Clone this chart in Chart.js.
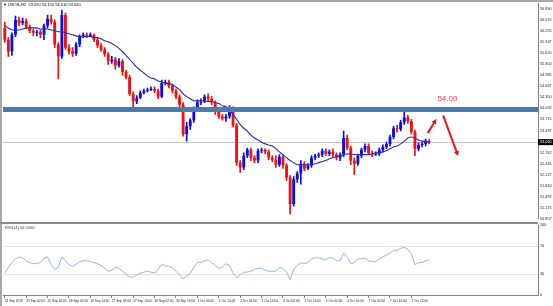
<!DOCTYPE html>
<html>
<head>
<meta charset="utf-8">
<script src="https://cdn.jsdelivr.net/npm/chart.js@4.4.0/dist/chart.umd.min.js"></script>
<style>
  html, body { margin: 0; padding: 0; background: #fff; }
  #wrap { position: relative; width: 553px; height: 306px; overflow: hidden; }
  #main { position: absolute; left: 0; top: 0; }
  #rsi { position: absolute; left: 0; top: 222px; }
  .frame { position: absolute; background: #a8a8a8; }
</style>
</head>
<body>
<div id="wrap">
  <canvas id="main" width="553" height="222"></canvas>
  <canvas id="rsi" width="553" height="84"></canvas>
  <div class="frame" style="left:0;top:0;width:553px;height:2px"></div>
  <div class="frame" style="left:0;top:0;width:2px;height:306px"></div>
  <div class="frame" style="left:0;top:222px;width:538px;height:2px;background:#8c8c8c"></div>
</div>
<script>
// H2 candles
const opens = [
  56.35, 56.01, 55.67, 56.15, 56.58, 56.49, 56.55, 56.38, 56.27, 56.21,
  56.24, 56.15, 56.41, 56.61, 56.52, 55.87, 55.53, 56.72, 55.78, 55.67,
  55.61, 55.87, 56.10, 56.15, 56.12, 56.15, 56.01, 55.84, 55.73, 55.59,
  55.39, 55.44, 55.27, 55.39, 55.08, 54.93, 54.45, 54.23, 54.34, 54.48,
  54.54, 54.57, 54.59, 54.54, 54.37, 54.76, 54.79, 54.68, 54.54, 54.37,
  54.14, 53.29, 53.52, 53.69, 54.03, 54.20, 54.23, 54.37, 54.31, 54.20,
  53.94, 53.80, 53.74, 53.80, 54.03, 53.55, 52.47, 52.33, 52.67, 52.84,
  52.61, 52.53, 52.81, 52.84, 52.78, 52.61, 52.55, 52.41, 52.64, 52.39,
  52.04, 51.28, 51.99, 52.16, 52.44, 52.30, 52.39, 52.61, 52.67, 52.70,
  52.81, 52.72, 52.78, 52.70, 52.61, 52.70, 53.18, 52.89, 52.53, 52.44,
  52.67, 52.84, 52.95, 52.75, 52.70, 52.72, 52.84, 52.92, 53.01, 53.21,
  53.46, 53.43, 53.63, 53.77, 53.66, 53.35, 52.87, 52.98, 53.01, 53.09,
];
const highs = [
  56.52, 56.07, 56.21, 56.69, 56.66, 56.63, 56.61, 56.44, 56.32, 56.29,
  56.29, 56.46, 56.72, 56.72, 56.58, 55.93, 56.86, 56.78, 55.87, 55.78,
  55.93, 56.15, 56.21, 56.21, 56.21, 56.18, 56.07, 55.90, 55.78, 55.64,
  55.53, 55.50, 55.47, 55.44, 55.13, 54.99, 54.51, 54.40, 54.54, 54.59,
  54.62, 54.65, 54.65, 54.59, 54.85, 54.85, 54.85, 54.74, 54.59, 54.42,
  54.20, 53.63, 53.74, 54.08, 54.28, 54.31, 54.42, 54.45, 54.37, 54.25,
  54.00, 53.86, 53.86, 54.11, 54.08, 53.60, 52.53, 52.75, 52.89, 52.89,
  52.67, 52.87, 52.89, 52.87, 52.84, 52.67, 52.67, 52.70, 52.70, 52.44,
  52.10, 52.07, 52.21, 52.53, 52.50, 52.44, 52.67, 52.72, 52.75, 52.87,
  52.87, 52.84, 52.87, 52.75, 52.75, 53.38, 53.26, 52.95, 52.61, 52.72,
  52.89, 53.01, 53.01, 52.81, 52.78, 52.89, 52.98, 53.06, 53.26, 53.52,
  53.55, 53.69, 54.03, 53.83, 53.72, 53.41, 53.04, 53.06, 53.15, 53.15,
];
const lows = [
  55.93, 55.53, 55.56, 56.10, 56.41, 56.44, 56.32, 56.21, 56.12, 56.12,
  56.07, 56.01, 56.35, 56.46, 55.78, 54.88, 55.47, 55.73, 55.59, 55.53,
  55.56, 55.81, 56.07, 56.07, 56.10, 55.95, 55.78, 55.67, 55.53, 55.30,
  55.33, 55.16, 55.22, 54.99, 54.88, 54.40, 54.03, 54.17, 54.31, 54.45,
  54.51, 54.54, 54.48, 54.31, 54.34, 54.71, 54.62, 54.48, 54.31, 54.08,
  53.23, 53.09, 53.43, 53.63, 53.97, 54.14, 54.20, 54.25, 54.14, 53.86,
  53.74, 53.69, 53.66, 53.74, 53.49, 52.39, 52.19, 52.27, 52.61, 52.53,
  52.47, 52.47, 52.75, 52.72, 52.55, 52.50, 52.33, 52.36, 52.30, 51.96,
  50.99, 51.22, 51.90, 51.85, 52.24, 52.27, 52.33, 52.55, 52.61, 52.64,
  52.67, 52.67, 52.64, 52.55, 52.53, 52.64, 52.84, 52.41, 52.13, 52.39,
  52.61, 52.78, 52.70, 52.64, 52.67, 52.67, 52.78, 52.87, 52.95, 53.15,
  53.35, 53.38, 53.57, 53.60, 53.29, 52.67, 52.81, 52.92, 52.95, 53.01,
];
const closes = [
  56.01, 55.67, 56.15, 56.58, 56.49, 56.55, 56.38, 56.27, 56.21, 56.24,
  56.15, 56.41, 56.61, 56.52, 55.87, 55.53, 56.72, 55.78, 55.67, 55.61,
  55.87, 56.10, 56.15, 56.12, 56.15, 56.01, 55.84, 55.73, 55.59, 55.39,
  55.44, 55.27, 55.39, 55.08, 54.93, 54.45, 54.23, 54.34, 54.48, 54.54,
  54.57, 54.59, 54.54, 54.37, 54.76, 54.79, 54.68, 54.54, 54.37, 54.14,
  53.29, 53.52, 53.69, 54.03, 54.20, 54.23, 54.37, 54.31, 54.20, 53.94,
  53.80, 53.74, 53.80, 54.03, 53.55, 52.47, 52.33, 52.67, 52.84, 52.61,
  52.53, 52.81, 52.84, 52.78, 52.61, 52.55, 52.41, 52.64, 52.39, 52.04,
  51.28, 51.99, 52.16, 52.44, 52.30, 52.39, 52.61, 52.67, 52.70, 52.81,
  52.72, 52.78, 52.70, 52.61, 52.70, 53.18, 52.89, 52.53, 52.44, 52.67,
  52.84, 52.95, 52.75, 52.70, 52.72, 52.84, 52.92, 53.01, 53.21, 53.46,
  53.43, 53.63, 53.77, 53.66, 53.35, 52.87, 52.98, 53.01, 53.09, 53.06,
];
// moving average as drawn on the chart
const maValues = [
  56.41, 56.35, 56.29, 56.29, 56.29, 56.32, 56.35, 56.35, 56.35, 56.35,
  56.32, 56.32, 56.32, 56.29, 56.27, 56.24, 56.24, 56.21, 56.18, 56.15,
  56.12, 56.10, 56.10, 56.10, 56.10, 56.07, 56.07, 56.04, 55.98, 55.95,
  55.90, 55.84, 55.76, 55.67, 55.56, 55.44, 55.33, 55.22, 55.13, 55.05,
  54.96, 54.91, 54.88, 54.82, 54.79, 54.76, 54.74, 54.71, 54.65, 54.57,
  54.45, 54.37, 54.31, 54.25, 54.25, 54.25, 54.25, 54.23, 54.23, 54.20,
  54.17, 54.11, 54.08, 54.00, 53.86, 53.72, 53.57, 53.46, 53.38, 53.26,
  53.18, 53.12, 53.06, 53.01, 52.98, 52.95, 52.87, 52.78, 52.70, 52.61,
  52.53, 52.47, 52.41, 52.41, 52.41, 52.41, 52.41, 52.44, 52.47, 52.50,
  52.53, 52.58, 52.61, 52.64, 52.67, 52.70, 52.72, 52.72, 52.70, 52.70,
  52.70, 52.70, 52.70, 52.72, 52.75, 52.75, 52.78, 52.81, 52.87, 52.92,
  52.95, 53.01, 53.09, 53.18, 53.21, 53.18, 53.12, 53.09, 53.09, 53.06,
];
const rsiValues = [
  31.4, 39.6, 46.4, 51.9, 54.6, 53.2, 49.1, 46.4, 45.0, 45.0,
  46.4, 53.2, 54.6, 43.7, 36.9, 39.6, 54.6, 49.1, 43.7, 41.0,
  43.7, 47.8, 49.1, 49.1, 47.8, 46.4, 45.0, 42.3, 38.2, 34.1,
  35.5, 39.6, 38.2, 34.1, 30.0, 25.9, 25.9, 28.7, 31.4, 32.8,
  34.1, 32.8, 31.4, 36.9, 43.7, 42.3, 41.0, 39.6, 34.1, 28.7,
  23.2, 27.3, 31.4, 39.6, 46.4, 46.4, 49.1, 50.5, 46.4, 42.3,
  38.2, 39.6, 45.0, 42.3, 31.4, 24.6, 28.7, 32.8, 32.8, 34.1,
  36.9, 38.2, 38.2, 35.5, 34.1, 34.1, 34.1, 39.6, 38.2, 32.8,
  21.8, 36.9, 42.3, 46.4, 45.0, 46.4, 51.9, 53.2, 53.2, 51.9,
  50.5, 53.2, 53.2, 49.1, 49.1, 60.1, 54.6, 45.0, 46.4, 51.9,
  51.9, 53.2, 49.1, 47.8, 47.8, 51.9, 54.6, 57.3, 60.1, 64.2,
  64.2, 66.9, 68.3, 65.5, 58.7, 43.7, 46.4, 46.4, 49.1, 50.5,
];
const priceTicks = [
  56.890, 56.572, 56.255, 55.937, 55.620, 55.302, 54.985, 54.667, 54.350, 54.032,
  53.715, 53.397, 52.762, 52.445, 52.127, 51.810, 51.492, 51.175, 50.857,
];
const rsiTicks = [100, 70, 30, 0];
const timeLabels = [
  '24 Sep 2019', '25 Sep 02:00', '25 Sep 14:00', '26 Sep 02:00', '26 Sep 14:00',
  '27 Sep 02:00', '27 Sep 14:00', '30 Sep 02:00', '30 Sep 14:00', '1 Oct 02:00',
  '1 Oct 14:00', '2 Oct 02:00', '2 Oct 14:00', '3 Oct 02:00', '3 Oct 14:00',
  '4 Oct 02:00', '4 Oct 14:00', '7 Oct 02:00', '7 Oct 14:00', '7 Oct 22:00',
];
const resistance = 54.0;
// annotations in chart coordinates: [index, price]
const noteAt = [124.1, 54.30];
const arrows = [
  [118.6, 53.32, 121.0, 53.73],
  [122.9, 53.83, 127.1, 52.66],
];

const SLOTS = 150;
const LABEL_STEP = 6;
const slots = Array.from({ length: SLOTS }, (_, i) => i);
const candleColors = opens.map((o, i) => (closes[i] >= o ? '#0c0ce8' : '#f01010'));
const last = closes.length - 1;
const fmt3 = (v) => Number(v).toFixed(3);

function drawArrow(ctx, x0, y0, x1, y1) {
  const ang = Math.atan2(y1 - y0, x1 - x0);
  const head = 5.5;
  ctx.beginPath();
  ctx.moveTo(x0, y0);
  ctx.lineTo(x1 - Math.cos(ang) * head * 0.7, y1 - Math.sin(ang) * head * 0.7);
  ctx.stroke();
  ctx.beginPath();
  ctx.moveTo(x1, y1);
  ctx.lineTo(x1 - head * Math.cos(ang - 0.5), y1 - head * Math.sin(ang - 0.5));
  ctx.lineTo(x1 - head * Math.cos(ang + 0.5), y1 - head * Math.sin(ang + 0.5));
  ctx.closePath();
  ctx.fill();
}

const mainOverlay = {
  id: 'mainOverlay',
  beforeDatasetsDraw(chart) {
    const { ctx, chartArea: a, scales: { y } } = chart;
    const py = Math.round(y.getPixelForValue(closes[last])) + 0.5;
    ctx.save();
    ctx.strokeStyle = '#c6c6c6';
    ctx.lineWidth = 1;
    ctx.beginPath();
    ctx.moveTo(a.left, py);
    ctx.lineTo(a.right, py);
    ctx.stroke();
    ctx.restore();
  },
  afterDatasetsDraw(chart) {
    const { ctx, chartArea: a, scales: { x, y } } = chart;
    ctx.save();
    const ry = y.getPixelForValue(resistance);
    ctx.fillStyle = '#4a7dab';
    ctx.fillRect(a.left, ry - 2.5, a.right - a.left, 5);

    ctx.fillStyle = '#f04444';
    ctx.font = '8px Arial';
    ctx.textAlign = 'center';
    ctx.textBaseline = 'middle';
    ctx.fillText(resistance.toFixed(2), x.getPixelForValue(noteAt[0]), y.getPixelForValue(noteAt[1]));

    ctx.strokeStyle = '#e8141c';
    ctx.fillStyle = '#e8141c';
    ctx.lineWidth = 2;
    arrows.forEach(([i0, p0, i1, p1]) => {
      drawArrow(ctx, x.getPixelForValue(i0), y.getPixelForValue(p0),
        x.getPixelForValue(i1), y.getPixelForValue(p1));
    });

    ctx.fillStyle = '#000';
    ctx.font = '4px Arial';
    ctx.textAlign = 'left';
    ctx.fillText('\u25BC', 3, 5);
    ctx.fillText('USOIL,H2  ' + [opens[last], highs[last], lows[last], closes[last]].map(fmt3).join(' '), 8, 5);
    ctx.restore();
  },
  afterDraw(chart) {
    const { ctx, chartArea: a, scales: { y } } = chart;
    const py = y.getPixelForValue(closes[last]);
    ctx.save();
    ctx.fillStyle = '#000';
    ctx.fillRect(a.right, py - 3, 15, 6);
    ctx.fillStyle = '#fff';
    ctx.font = '3.8px Arial';
    ctx.textAlign = 'left';
    ctx.textBaseline = 'middle';
    ctx.fillText(fmt3(closes[last]), a.right + 2, py);
    ctx.restore();
  },
};

new Chart(document.getElementById('main'), {
  type: 'bar',
  data: {
    labels: slots,
    datasets: [
      {
        label: 'wick',
        data: lows.map((l, i) => [l, highs[i]]),
        backgroundColor: candleColors,
        barThickness: 1,
        grouped: false,
        order: 3,
      },
      {
        label: 'body',
        data: opens.map((o, i) => [o, closes[i]]),
        backgroundColor: candleColors,
        barPercentage: 0.8,
        categoryPercentage: 1,
        minBarLength: 1,
        grouped: false,
        order: 2,
      },
      {
        type: 'line',
        label: 'MA',
        data: maValues,
        borderColor: '#2c2cb4',
        borderWidth: 1.1,
        pointRadius: 0,
        tension: 0.2,
        order: 1,
      },
    ],
  },
  options: {
    responsive: false,
    animation: false,
    devicePixelRatio: 1,
    layout: { padding: { left: 3, top: 3, right: 0, bottom: 0 } },
    plugins: { legend: { display: false }, tooltip: { enabled: false } },
    scales: {
      x: { display: false, offset: true },
      y: {
        position: 'right',
        min: 50.855,
        max: 57.059,
        afterFit: (s) => { s.width = 15; },
        afterBuildTicks: (s) => { s.ticks = priceTicks.map((v) => ({ value: v })); },
        ticks: {
          autoSkip: false,
          font: { size: 3.8, family: 'Arial' },
          color: '#222',
          padding: 1,
          callback: fmt3,
        },
        grid: { drawOnChartArea: false, tickLength: 1, color: '#808080' },
        border: { color: '#808080', width: 1 },
      },
    },
  },
  plugins: [mainOverlay],
});

const rsiTitle = {
  id: 'rsiTitle',
  afterDraw(chart) {
    const { ctx } = chart;
    ctx.save();
    ctx.fillStyle = '#333';
    ctx.font = '4px Arial';
    ctx.textBaseline = 'middle';
    ctx.fillText('RSI(14) ' + rsiValues[last].toFixed(4), 5, 6);
    ctx.restore();
  },
};

new Chart(document.getElementById('rsi'), {
  type: 'line',
  data: {
    labels: slots,
    datasets: [{
      data: rsiValues,
      borderColor: '#93b5e6',
      borderWidth: 1,
      pointRadius: 0,
    }],
  },
  options: {
    responsive: false,
    animation: false,
    devicePixelRatio: 1,
    layout: { padding: { left: 3, top: 3, right: 0, bottom: 0 } },
    plugins: { legend: { display: false }, tooltip: { enabled: false } },
    scales: {
      x: {
        offset: true,
        afterFit: (s) => { s.height = 11; },
        ticks: {
          autoSkip: false,
          maxRotation: 0,
          minRotation: 0,
          align: 'start',
          padding: 1,
          font: { size: 3.2, family: 'Arial' },
          color: '#222',
          callback: (v, i) => (i % LABEL_STEP === 0 && timeLabels[i / LABEL_STEP]) ? timeLabels[i / LABEL_STEP] : '',
        },
        grid: {
          drawOnChartArea: false,
          tickLength: 3,
          color: (c) => (c.index % LABEL_STEP === 0 && c.index / LABEL_STEP < timeLabels.length) ? '#808080' : 'rgba(0,0,0,0)',
        },
        border: { color: '#808080', width: 1 },
      },
      y: {
        position: 'right',
        min: 0,
        max: 100,
        afterFit: (s) => { s.width = 15; },
        afterBuildTicks: (s) => { s.ticks = rsiTicks.map((v) => ({ value: v })); },
        ticks: { font: { size: 3.8, family: 'Arial' }, color: '#222', padding: 1 },
        grid: {
          tickLength: 1,
          color: (c) => (c.tick && (c.tick.value === 30 || c.tick.value === 70)) ? '#e2e2e2' : 'rgba(0,0,0,0)',
        },
        border: { color: '#808080', width: 1 },
      },
    },
  },
  plugins: [rsiTitle],
});
</script>
</body>
</html>
